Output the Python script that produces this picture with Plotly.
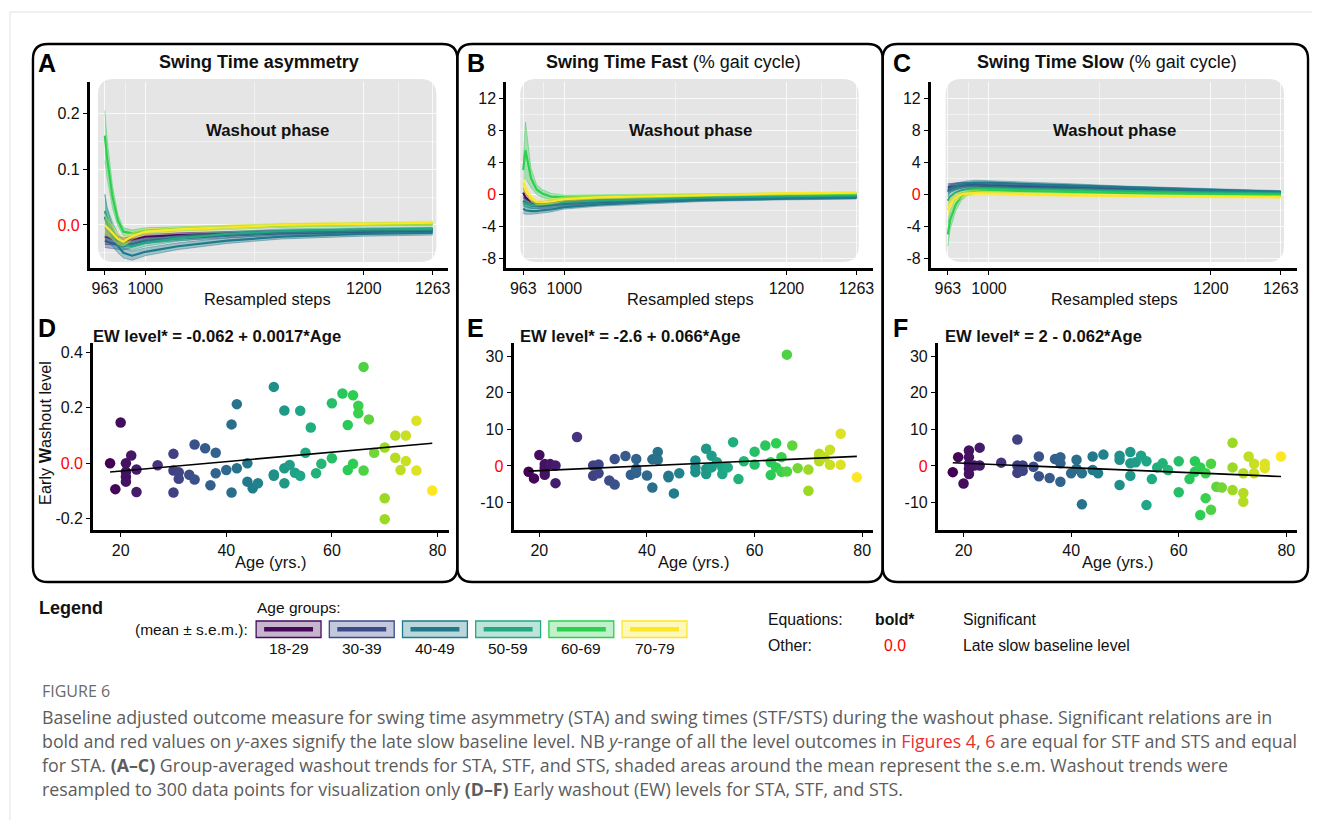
import numpy as np
import plotly.graph_objects as go

W, H = 1320, 820
OFF = 8  # page body margin in the browser
def px(x): return (x - OFF) / W
def py(y): return 1 - (y - OFF) / H

# ---------------- data ----------------
groups = ["18-29", "30-39", "40-49", "50-59", "60-69", "70-79"]
group_colors = ["#460a5d", "#3d4a8a", "#1f7a8c", "#22a884", "#2dcf4e", "#fde725"]

steps = [963, 965, 970, 975, 980, 988, 1000, 1030, 1075, 1125, 1200, 1263]

sta_mean = [
    [-0.020, -0.022, -0.025, -0.028, -0.030, -0.026, -0.021, -0.018, -0.015, -0.012, -0.010, -0.008],
    [-0.028, -0.030, -0.033, -0.036, -0.038, -0.034, -0.028, -0.024, -0.019, -0.015, -0.012, -0.010],
    [0.015, 0.000, -0.020, -0.038, -0.050, -0.055, -0.048, -0.038, -0.028, -0.021, -0.016, -0.014],
    [0.025, 0.010, -0.010, -0.025, -0.035, -0.038, -0.032, -0.024, -0.016, -0.011, -0.008, -0.007],
    [0.160, 0.120, 0.050, 0.008, -0.012, -0.015, -0.010, -0.007, -0.004, -0.001, 0.001, 0.002],
    [0.000, -0.004, -0.014, -0.025, -0.030, -0.020, -0.012, -0.008, -0.004, 0.000, 0.002, 0.004],
]
sta_sem = [
    [0.015, 0.013, 0.010, 0.008, 0.007, 0.006, 0.005, 0.004, 0.004, 0.003, 0.003, 0.003],
    [0.012, 0.011, 0.009, 0.008, 0.007, 0.006, 0.005, 0.004, 0.004, 0.003, 0.003, 0.003],
    [0.040, 0.030, 0.018, 0.012, 0.009, 0.008, 0.007, 0.006, 0.005, 0.004, 0.004, 0.004],
    [0.030, 0.022, 0.015, 0.010, 0.008, 0.007, 0.006, 0.005, 0.004, 0.004, 0.003, 0.003],
    [0.045, 0.035, 0.020, 0.010, 0.007, 0.006, 0.005, 0.004, 0.004, 0.003, 0.003, 0.003],
    [0.020, 0.015, 0.012, 0.010, 0.008, 0.006, 0.005, 0.004, 0.004, 0.003, 0.003, 0.003],
]
stf_mean = [
    [0.2, -0.4, -1.0, -1.2, -1.2, -1.1, -0.9, -0.7, -0.6, -0.45, -0.3, -0.25],
    [-0.8, -1.1, -1.4, -1.5, -1.5, -1.4, -1.2, -1.0, -0.8, -0.6, -0.45, -0.35],
    [-1.8, -2.0, -2.1, -2.1, -2.0, -1.9, -1.6, -1.3, -1.0, -0.75, -0.55, -0.45],
    [-1.0, -1.2, -1.4, -1.4, -1.3, -1.2, -1.0, -0.8, -0.6, -0.4, -0.25, -0.15],
    [3.0, 5.5, 2.0, 0.6, 0.1, -0.3, -0.4, -0.3, -0.2, -0.1, 0.0, 0.05],
    [1.5, 0.6, -0.5, -1.0, -1.0, -0.9, -0.6, -0.4, -0.25, -0.1, 0.1, 0.2],
]
stf_sem = [
    [0.6, 0.5, 0.4, 0.3, 0.3, 0.3, 0.25, 0.2, 0.2, 0.15, 0.15, 0.15],
    [0.5, 0.4, 0.35, 0.3, 0.3, 0.3, 0.25, 0.2, 0.2, 0.15, 0.15, 0.15],
    [0.6, 0.5, 0.4, 0.35, 0.35, 0.3, 0.25, 0.2, 0.2, 0.15, 0.15, 0.15],
    [0.5, 0.45, 0.4, 0.35, 0.3, 0.3, 0.25, 0.2, 0.2, 0.15, 0.15, 0.15],
    [1.2, 3.5, 1.2, 0.6, 0.5, 0.4, 0.3, 0.25, 0.2, 0.15, 0.15, 0.15],
    [0.8, 0.6, 0.4, 0.3, 0.3, 0.3, 0.25, 0.2, 0.2, 0.15, 0.15, 0.15],
]
sts_mean = [
    [0.8, 0.9, 1.0, 1.1, 1.1, 1.1, 1.0, 0.9, 0.8, 0.6, 0.4, 0.2],
    [0.5, 0.7, 0.9, 1.1, 1.2, 1.2, 1.1, 1.0, 0.9, 0.7, 0.45, 0.25],
    [0.3, 0.7, 1.0, 1.2, 1.35, 1.45, 1.45, 1.3, 1.1, 0.85, 0.55, 0.3],
    [-0.8, -0.3, 0.2, 0.5, 0.65, 0.75, 0.75, 0.65, 0.55, 0.4, 0.2, 0.1],
    [-5.0, -3.2, -1.3, -0.3, 0.2, 0.45, 0.5, 0.4, 0.3, 0.15, 0.0, -0.1],
    [-2.0, -1.2, -0.4, -0.05, 0.1, 0.15, 0.1, 0.0, -0.1, -0.2, -0.3, -0.35],
]
sts_sem = [
    [0.5, 0.45, 0.4, 0.35, 0.3, 0.3, 0.25, 0.2, 0.2, 0.15, 0.15, 0.15],
    [0.5, 0.45, 0.4, 0.35, 0.3, 0.3, 0.25, 0.2, 0.2, 0.15, 0.15, 0.15],
    [0.6, 0.5, 0.4, 0.35, 0.3, 0.3, 0.25, 0.2, 0.2, 0.15, 0.15, 0.15],
    [0.7, 0.6, 0.45, 0.35, 0.3, 0.3, 0.25, 0.2, 0.2, 0.15, 0.15, 0.15],
    [1.5, 1.2, 0.8, 0.5, 0.4, 0.3, 0.25, 0.2, 0.2, 0.15, 0.15, 0.15],
    [0.8, 0.7, 0.5, 0.35, 0.3, 0.3, 0.25, 0.2, 0.2, 0.15, 0.15, 0.15],
]

age_D = [18,19,20,21,21,21,21,22,23,23,27,30,30,30,31,31,33,34,34,36,37,38,38,40,41,41,42,42,44,44,45,46,
         49,49,49,51,51,51,52,53,54,54,55,56,57,58,60,60,62,63,63,64,64,65,65,66,66,67,68,70,70,70,72,72,73,74,74,76,76,79]
ew_D = [0.0,-0.093,0.147,0.0,-0.03,-0.048,-0.066,0.028,-0.022,-0.103,-0.007,0.034,-0.026,-0.105,-0.032,-0.056,
        -0.041,-0.058,0.068,0.054,-0.079,0.038,-0.036,-0.024,0.14,-0.105,0.213,-0.018,0.0,-0.066,-0.09,-0.072,
        0.275,-0.04,-0.045,0.19,-0.018,-0.072,-0.006,-0.034,0.189,-0.045,0.038,0.129,-0.036,-0.002,0.216,0.018,
        0.251,0.138,-0.024,0.245,-0.002,0.207,0.18,0.347,-0.026,0.158,0.038,0.057,-0.126,-0.201,0.1,0.02,-0.024,
        0.1,0.008,0.153,-0.026,-0.098]

age_E = [18,19,20,21,21,21,21,22,23,23,27,30,30,31,31,33,34,34,36,37,38,38,38,40,41,41,42,42,44,44,45,46,
         49,49,49,51,51,51,52,52,53,54,54,55,56,57,58,60,60,62,63,63,64,64,65,65,66,66,67,68,70,70,72,72,72,73,74,74,76,76,79]
ew_E = [-1.6,-3.4,3.0,0.5,-0.4,-1.3,-2.4,0.5,0.1,-4.7,7.9,0.1,-2.7,0.4,-2.0,-4.0,1.9,-5.1,2.7,-2.4,1.9,-0.8,-1.9,
        -2.6,1.8,-5.9,3.8,1.7,-2.7,-3.1,-7.5,-2.0,1.5,-0.4,-1.7,4.7,-0.8,-2.2,2.8,-0.4,1.0,-0.4,-2.2,-0.4,6.5,-3.6,
        1.3,3.9,0.4,5.6,1.0,-2.5,6.2,-0.4,2.4,-1.6,30.4,-1.5,5.6,-0.6,-1.0,-6.8,3.3,2.4,1.3,2.4,4.4,0.3,8.8,0.3,-3.1]

age_F = [18,19,20,21,21,21,21,21,22,23,23,27,30,30,30,31,31,33,34,34,36,37,38,38,38,40,41,41,42,42,44,44,45,46,
         49,49,49,51,51,51,52,53,54,54,55,56,57,58,60,60,62,63,63,64,64,65,65,66,66,67,68,70,70,70,72,72,72,73,74,74,76,76,79]
ew_F = [-1.7,2.4,-4.8,4.2,2.4,0.6,-0.8,-2.2,0.1,5.0,0.1,0.9,7.2,0.1,-1.9,0.1,-1.3,-0.2,2.6,-2.8,-3.3,1.9,2.4,0.7,
        -4.3,-2.0,1.7,-0.8,-2.0,-10.5,2.6,-1.1,-2.0,3.1,2.8,1.7,-5.2,3.8,0.7,-2.7,1.0,2.8,1.3,-10.7,-3.6,-0.4,0.7,
        -1.1,1.3,-7.2,-3.6,1.3,-1.6,-0.4,-13.4,-2.0,-8.8,0.6,-12.0,-5.7,-5.9,6.3,-0.4,-6.6,-2.0,-7.4,-9.8,2.6,0.6,
        -2.0,0.6,-0.6,2.6]

eq_intercepts = [-0.062, -2.6, 2.0]
eq_slopes = [0.0017, 0.066, -0.062]
eq_labels = ["EW level* = -0.062 + 0.0017*Age", "EW level* = -2.6 + 0.066*Age", "EW level* = 2 - 0.062*Age"]

# ---------------- styling helpers ----------------
FONT = "Liberation Sans, Arial, sans-serif"
TXT = "#111111"
RED = "#ff0000"

def rgba(hexc, a):
    h = hexc.lstrip("#")
    r, g, b = int(h[0:2], 16), int(h[2:4], 16), int(h[4:6], 16)
    return f"rgba({r},{g},{b},{a})"

def rrect(x0, y0, x1, y1, r):
    pts = [("M", [(x0 + r, y0)]), ("L", [(x1 - r, y0)]), ("Q", [(x1, y0), (x1, y0 + r)]),
           ("L", [(x1, y1 - r)]), ("Q", [(x1, y1), (x1 - r, y1)]), ("L", [(x0 + r, y1)]),
           ("Q", [(x0, y1), (x0, y1 - r)]), ("L", [(x0, y0 + r)]), ("Q", [(x0, y0), (x0 + r, y0)])]
    s = ""
    for cmd, ps in pts:
        s += cmd + " " + " ".join(f"{px(a):.5f},{py(b):.5f}" for a, b in ps) + " "
    return s + "Z"

scatter_scale = [[0.0, "#440154"], [0.15, "#46337e"], [0.3, "#365c8d"], [0.45, "#1f7f8c"],
                 [0.6, "#1fa986"], [0.76, "#2ccf50"], [0.86, "#a5da22"], [1.0, "#fde725"]]

fig = go.Figure()

# ---------------- top panels (A-C) ----------------
top_sets = [(sta_mean, sta_sem), (stf_mean, stf_sem), (sts_mean, sts_sem)]
for p, (means, sems) in enumerate(top_sets):
    xa = "x" if p == 0 else f"x{p + 1}"
    ya = "y" if p == 0 else f"y{p + 1}"
    for g in range(6):
        m = np.array(means[g]); s = np.array(sems[g]); col = group_colors[g]
        fig.add_trace(go.Scatter(x=steps, y=m - s, mode="lines", xaxis=xa, yaxis=ya,
                                 line=dict(color=rgba(col, 0.55), width=0.8),
                                 showlegend=False, hoverinfo="skip"))
        fig.add_trace(go.Scatter(x=steps, y=m + s, mode="lines", xaxis=xa, yaxis=ya, fill="tonexty",
                                 fillcolor=rgba(col, 0.35), line=dict(color=rgba(col, 0.55), width=0.8),
                                 showlegend=False, hoverinfo="skip"))
        fig.add_trace(go.Scatter(x=steps, y=m, mode="lines", xaxis=xa, yaxis=ya,
                                 line=dict(color=col, width=2.2), showlegend=False, name=groups[g]))

# ---------------- bottom panels (D-F) ----------------
scatter_sets = [(age_D, ew_D), (age_E, ew_E), (age_F, ew_F)]
for p, (ages, vals) in enumerate(scatter_sets):
    xa = f"x{p + 4}"; ya = f"y{p + 4}"
    fig.add_trace(go.Scatter(x=ages, y=vals, mode="markers", xaxis=xa, yaxis=ya,
                             marker=dict(size=10.5, color=ages, colorscale=scatter_scale, cmin=18, cmax=79,
                                         line=dict(width=0)),
                             showlegend=False))
    xl = np.array([min(ages), max(ages)], dtype=float)
    fig.add_trace(go.Scatter(x=xl, y=eq_intercepts[p] + eq_slopes[p] * xl, mode="lines", xaxis=xa, yaxis=ya,
                             line=dict(color="black", width=1.6), showlegend=False, hoverinfo="skip"))

# ---------------- axes ----------------
def axis_common():
    return dict(showline=True, linecolor="black", linewidth=3, ticks="outside", ticklen=4, tickwidth=1.4,
                tickcolor="black", tickfont=dict(family=FONT, size=16, color=TXT), zeroline=False,
                fixedrange=True)

step_ticks = [963, 1000, 1200, 1263]
top_x = [(90, 449, 949.3, 1277.3), (507, 874.3, 947.7, 1277.9), (932.3, 1299, 947.7, 1277.7)]
top_y = [(-0.077, 0.256, [0.2, 0.1, 0.0], ["0.2", "0.1", f"<span style='color:{RED}'>0.0</span>"],
          [0.15, 0.05, -0.05]),
         (-9.2, 14.0, [12, 8, 4, 0, -4, -8], ["12", "8", "4", f"<span style='color:{RED}'>0</span>", "-4", "-8"],
          [10, 6, 2, -2, -6]),
         (-9.2, 14.0, [12, 8, 4, 0, -4, -8], ["12", "8", "4", f"<span style='color:{RED}'>0</span>", "-4", "-8"],
          [10, 6, 2, -2, -6])]
lay = {}
for p in range(3):
    k = "" if p == 0 else str(p + 1)
    x0, x1, r0, r1 = top_x[p]
    xa = axis_common()
    xa.update(domain=[px(x0), px(x1)], range=[r0, r1], anchor="y" + k, tickmode="array",
              tickvals=step_ticks, ticktext=[str(t) for t in step_ticks],
              showgrid=True, gridcolor="rgba(255,255,255,0.75)", gridwidth=1,
              minor=dict(tickvals=[981.5, 1100, 1231.5], showgrid=True, gridcolor="rgba(255,255,255,0.45)",
                         gridwidth=0.7, ticklen=0))
    ylo, yhi, tv, tt, mv = top_y[p]
    yax = axis_common()
    yax.update(domain=[py(268), py(82)], range=[ylo, yhi], anchor="x" + k, tickmode="array",
               tickvals=tv, ticktext=tt, showgrid=True, gridcolor="rgba(255,255,255,0.75)", gridwidth=1,
               minor=dict(tickvals=mv, showgrid=True, gridcolor="rgba(255,255,255,0.45)", gridwidth=0.7, ticklen=0))
    lay["xaxis" + k] = xa
    lay["yaxis" + k] = yax

bot_x = [(93.3, 449.3, 14.8, 82.1), (514.3, 874.3, 15.2, 82.0), (939.3, 1299, 15.23, 81.99)]
bot_y = [(343, 530, -0.24, 0.433, [-0.2, 0.0, 0.2, 0.4], ["-0.2", f"<span style='color:{RED}'>0.0</span>", "0.2", "0.4"]),
         (343.3, 530, -17.5, 33.5, [-10, 0, 10, 20, 30], ["-10", f"<span style='color:{RED}'>0</span>", "10", "20", "30"]),
         (343.3, 530, -17.5, 33.5, [-10, 0, 10, 20, 30], ["-10", f"<span style='color:{RED}'>0</span>", "10", "20", "30"])]
for p in range(3):
    k = str(p + 4)
    x0, x1, r0, r1 = bot_x[p]
    xa = axis_common()
    xa.update(domain=[px(x0), px(x1)], range=[r0, r1], anchor="y" + k, tickmode="array",
              tickvals=[20, 40, 60, 80], showgrid=False)
    y0, y1, ylo, yhi, tv, tt = bot_y[p]
    yax = axis_common()
    yax.update(domain=[py(y1), py(y0)], range=[ylo, yhi], anchor="x" + k, tickmode="array",
               tickvals=tv, ticktext=tt, showgrid=False)
    lay["xaxis" + k] = xa
    lay["yaxis" + k] = yax

# ---------------- shapes ----------------
shapes = []
shapes.append(dict(type="line", xref="paper", yref="paper", x0=px(10), x1=px(1330), y0=py(12), y1=py(12),
                   line=dict(color="#e2e2e2", width=1)))
shapes.append(dict(type="line", xref="paper", yref="paper", x0=px(10), x1=px(10), y0=py(12), y1=py(828),
                   line=dict(color="#e2e2e2", width=1)))
for (bx0, bx1) in [(33, 458), (458, 884), (884, 1310)]:
    shapes.append(dict(type="path", xref="paper", yref="paper", path=rrect(bx0, 44, bx1, 582, 15),
                       line=dict(color="black", width=2.4), layer="above"))
for (gx0, gx1) in [(98, 437), (521, 860), (947, 1286)]:
    shapes.append(dict(type="path", xref="paper", yref="paper", path=rrect(gx0, 79, gx1, 262, 16),
                       fillcolor="#e5e5e5", line=dict(width=0), layer="below"))

legend_x = [256.5, 329.8, 403.1, 476.4, 549.7, 623.0]
LBW = 65
for i, lx in enumerate(legend_x):
    col = group_colors[i]
    shapes.append(dict(type="rect", xref="paper", yref="paper", x0=px(lx), x1=px(lx + LBW),
                       y0=py(637.5), y1=py(621), fillcolor=rgba(col, 0.3), line=dict(color=col, width=1.3)))
    shapes.append(dict(type="line", xref="paper", yref="paper", x0=px(lx + 8), x1=px(lx + LBW - 8),
                       y0=py(629.3), y1=py(629.3), line=dict(color=col, width=4.5)))

# ---------------- annotations ----------------
ann = []
def A(text, x, y, size=15, xanchor="center", color=TXT, family=FONT, angle=0):
    ann.append(dict(text=text, x=px(x), y=py(y), xref="paper", yref="paper", showarrow=False,
                    xanchor=xanchor, yanchor="middle", textangle=angle,
                    font=dict(family=family, size=size, color=color)))

for L, x in zip("ABC", [36, 466, 892]):
    A(f"<b>{L}</b>", x, 63, size=25, xanchor="left", color="#000")
for L, x in zip("DEF", [36, 466, 892]):
    A(f"<b>{L}</b>", x, 328, size=25, xanchor="left", color="#000")

A("<b>Swing Time asymmetry</b>", 259, 62, size=18)
A("<b>Swing Time Fast</b> (% gait cycle)", 675, 62, size=18)
A("<b>Swing Time Slow</b> (% gait cycle)", 1109, 62, size=18)
for cx in [268, 692, 1116]:
    A("<b>Washout phase</b>", cx, 130, size=16.8)
    A("Resampled steps", cx, 299, size=16.4)
for lx, txt in zip([91, 519, 944], eq_labels):
    A(f"<b>{txt}</b>", lx, 336, size=16.6, xanchor="left")
for cx in [271, 695, 1120]:
    A("Age (yrs.)", cx, 562, size=16.5)
A("Early <b>W</b>ashout level", 45, 433, size=16.3, angle=-90)

# legend
A("<b>Legend</b>", 37, 608, size=18, xanchor="left")
A("Age groups:", 255, 607, size=15.5, xanchor="left")
A("(mean ± s.e.m.):", 250, 629, size=15.5, xanchor="right")
for i, lx in enumerate(legend_x):
    A(groups[i], lx + LBW / 2, 648, size=15.5)
A("Equations:", 767, 619, size=15.8, xanchor="left")
A("<b>bold*</b>", 896, 619, size=15.8)
A("Significant", 962, 619, size=15.8, xanchor="left")
A("Other:", 767, 645, size=15.8, xanchor="left")
A("0.0", 896, 645, size=15.8, color=RED)
A("Late slow baseline level", 962, 645, size=15.8, xanchor="left")

# caption
CAP = "Open Sans, sans-serif"
CAPC = "#5c5c5c"
LINK = "#e8312f"
A("FIGURE 6", 40, 691, size=16, xanchor="left", color="#6a6a6a", family=CAP)
cap_lines = [
    "Baseline adjusted outcome measure for swing time asymmetry (STA) and swing times (STF/STS) during the washout phase. Significant relations are in",
    f"bold and red values on <i>y</i>-axes signify the late slow baseline level. NB <i>y</i>-range of all the level outcomes in <span style='color:{LINK}'>Figures 4</span>, <span style='color:{LINK}'>6</span> are equal for STF and STS and equal",
    "for STA. <b>(A–C)</b> Group-averaged washout trends for STA, STF, and STS, shaded areas around the mean represent the s.e.m. Washout trends were",
    "resampled to 300 data points for visualization only <b>(D–F)</b> Early washout (EW) levels for STA, STF, and STS.",
]
for t, yy in zip(cap_lines, [717, 741, 765, 789]):
    A(t, 40, yy, size=17.8, xanchor="left", color=CAPC, family=CAP)

fig.update_layout(width=W, height=H, margin=dict(l=0, r=0, t=0, b=0), paper_bgcolor="white",
                  plot_bgcolor="rgba(0,0,0,0)", showlegend=False, shapes=shapes, annotations=ann, **lay)
fig.write_html("out.html")
